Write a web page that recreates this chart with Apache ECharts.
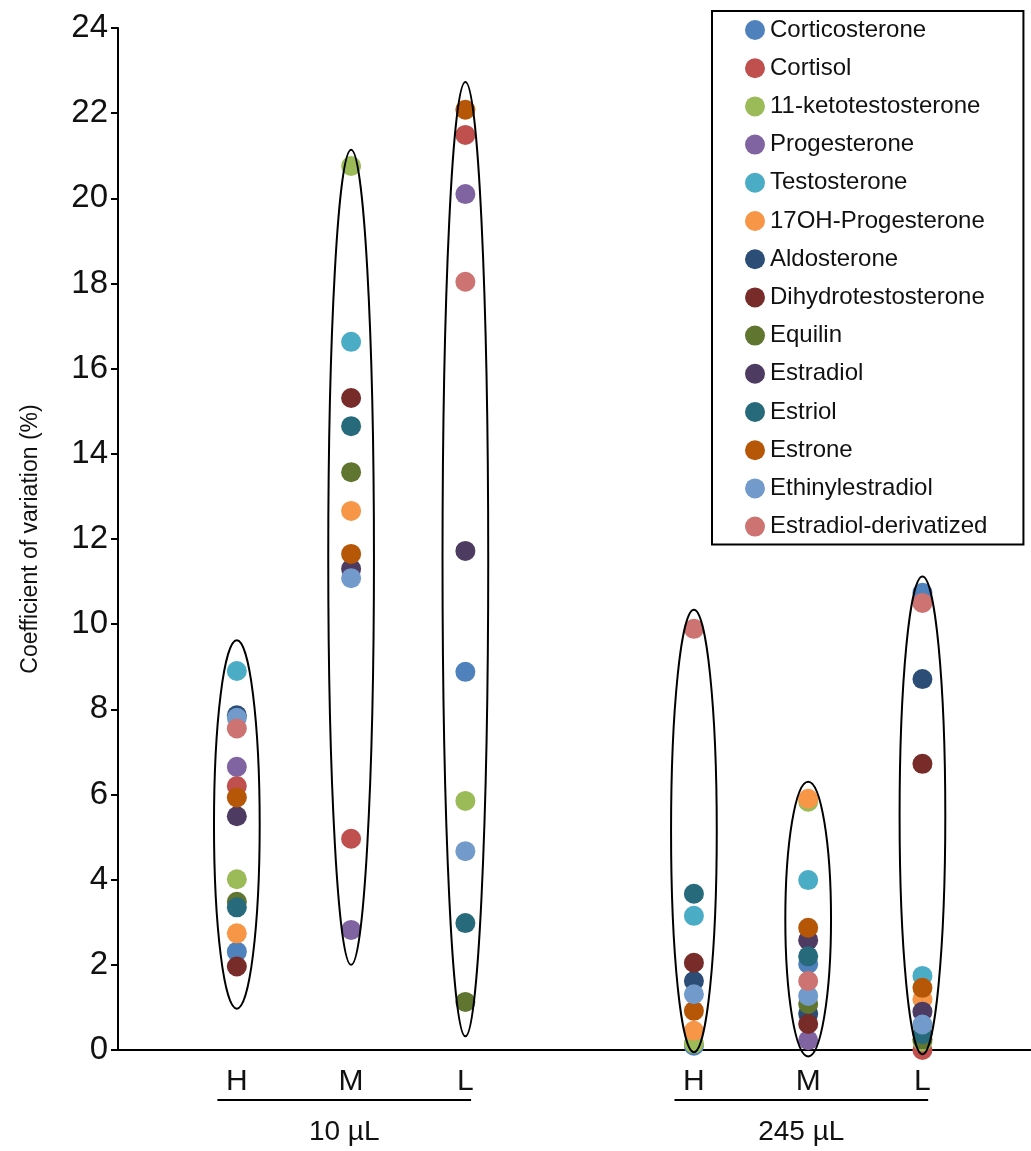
<!DOCTYPE html>
<html>
<head>
<meta charset="utf-8">
<script src="https://cdn.jsdelivr.net/npm/echarts@6/dist/echarts.min.js"></script>
<style>
html, body { margin: 0; padding: 0; background: #fff; }
#chart { width: 1031px; height: 1151px; }
</style>
</head>
<body>
<div id="chart"></div>
<script>
// x positions of the six sample groups (H, M, L for 10 µL, then for 245 µL)
const groupX = [1, 2, 3, 5, 6, 7]
const levelLabels = ['H', 'M', 'L', 'H', 'M', 'L']
const volumeStart = [1, 5]
const volumeEnd = [3, 7]
const volumeLabels = ['10 µL', '245 µL']

const compounds = ['Corticosterone', 'Cortisol', '11-ketotestosterone', 'Progesterone', 'Testosterone',
  '17OH-Progesterone', 'Aldosterone', 'Dihydrotestosterone', 'Equilin', 'Estradiol', 'Estriol',
  'Estrone', 'Ethinylestradiol', 'Estradiol-derivatized']
const colors = ['#4F81BD', '#C0504D', '#9BBB59', '#8064A2', '#4BACC6', '#F79646', '#2C4D75',
  '#772C2A', '#5F7530', '#4D3B62', '#276A7C', '#B65708', '#729ACA', '#CD7371']

// coefficient of variation (%) per group: H, M, L (10 µL), H, M, L (245 µL)
const corticosterone = [2.31, null, 8.88, 0.1, 2.02, 10.74]
const cortisol = [6.2, 4.96, 21.49, null, null, 0.0]
const ketotestosterone = [4.01, 20.76, 5.85, 0.15, 5.83, 0.2]
const progesterone = [6.65, 2.82, 20.1, null, 0.23, null]
const testosterone = [8.9, 16.63, null, 3.15, 3.99, 1.74]
const ohProgesterone = [2.74, 12.66, null, 0.45, 5.9, 1.19]
const aldosterone = [7.86, null, null, 1.62, 0.85, 8.71]
const dihydrotestosterone = [1.96, 15.31, null, 2.05, 0.61, 6.72]
const equilin = [3.48, 13.57, 1.13, null, 1.08, 0.25]
const estradiol = [5.49, 11.3, 11.72, null, 2.58, 0.9]
const estriol = [3.35, 14.65, 2.98, 3.67, 2.2, 0.37]
const estrone = [5.93, 11.65, 22.08, 0.92, 2.87, 1.46]
const ethinylestradiol = [7.8, 11.08, 4.67, 1.31, 1.27, 0.6]
const estradiolDerivatized = [7.55, null, 18.04, 9.89, 1.62, 10.5]

const values = [corticosterone, cortisol, ketotestosterone, progesterone, testosterone, ohProgesterone,
  aldosterone, dihydrotestosterone, equilin, estradiol, estriol, estrone, ethinylestradiol,
  estradiolDerivatized]

// ranges enclosed by the hand-drawn ellipses
const ellipseLow = [0.97, 2.0, 0.32, -0.05, -0.15, -0.1]
const ellipseHigh = [9.62, 21.14, 22.73, 10.34, 6.3, 11.12]

const font = 'Arial, "Liberation Sans", sans-serif'

const series = compounds.map((name, i) => ({
  name: name,
  type: 'scatter',
  symbol: 'circle',
  symbolSize: 20,
  clip: false,
  itemStyle: { color: colors[i], opacity: 1 },
  data: groupX.map((x, j) => values[i][j] === null ? null : [x, values[i][j]]).filter(d => d)
}))

series.push({
  name: 'ellipses',
  type: 'custom',
  z: 5,
  silent: true,
  clip: false,
  encode: { x: 0, y: [1, 2] },
  data: groupX.map((x, j) => [x, ellipseLow[j], ellipseHigh[j]]),
  renderItem(params, api) {
    const top = api.coord([api.value(0), api.value(2)])
    const bottom = api.coord([api.value(0), api.value(1)])
    const rx = api.size([0.2, 0])[0]
    return {
      type: 'ellipse',
      shape: { cx: top[0], cy: (top[1] + bottom[1]) / 2, rx: rx, ry: (bottom[1] - top[1]) / 2 },
      style: { fill: 'none', stroke: '#000', lineWidth: 2 }
    }
  }
})

series.push({
  name: 'volumes',
  type: 'custom',
  silent: true,
  clip: false,
  encode: { x: [0, 1], y: 2 },
  data: volumeStart.map((s, j) => [s, volumeEnd[j], 0, volumeLabels[j]]),
  renderItem(params, api) {
    const a = api.coord([api.value(0) - 0.17, 0])
    const b = api.coord([api.value(1) + 0.05, 0])
    const mid = (a[0] + b[0]) / 2
    return {
      type: 'group',
      children: [
        { type: 'line', shape: { x1: a[0], y1: a[1] + 50, x2: b[0], y2: b[1] + 50 },
          style: { stroke: '#000', lineWidth: 2 } },
        { type: 'text', x: mid, y: a[1] + 82,
          style: { text: volumeLabels[params.dataIndex], font: '28px ' + font, fill: '#111',
            align: 'center', verticalAlign: 'middle' } }
      ]
    }
  }
})

const chart = echarts.init(document.getElementById('chart'))
chart.setOption({
  animation: false,
  textStyle: { fontFamily: font },
  grid: { left: 118, right: 0, top: 28, bottom: 101, containLabel: false },
  legend: {
    data: compounds,
    orient: 'vertical',
    left: 712,
    top: 11,
    padding: [7, 36, 6, 33],
    itemWidth: 20,
    itemHeight: 20,
    itemGap: 14.2,
    icon: 'circle',
    borderColor: '#000',
    borderWidth: 2,
    textStyle: { fontSize: 24, color: '#111', fontFamily: font }
  },
  xAxis: {
    type: 'value',
    min: -0.04,
    max: 7.95,
    splitLine: { show: false },
    axisTick: { show: false },
    axisLine: { lineStyle: { color: '#000', width: 2 } },
    axisLabel: {
      customValues: groupX,
      margin: 17,
      fontSize: 30,
      color: '#111',
      formatter: v => levelLabels[groupX.indexOf(v)] || ''
    }
  },
  yAxis: {
    type: 'value',
    min: 0,
    max: 24,
    interval: 2,
    name: 'Coefficient of variation (%)',
    nameLocation: 'middle',
    nameGap: 76,
    nameTextStyle: { fontSize: 23, color: '#111' },
    splitLine: { show: false },
    axisLine: { show: true, onZero: false, lineStyle: { color: '#000', width: 2 } },
    axisTick: { show: true, length: 7, lineStyle: { color: '#000', width: 2 } },
    axisLabel: { fontSize: 33, color: '#111', margin: 10 }
  },
  series: series
})
</script>
</body>
</html>
